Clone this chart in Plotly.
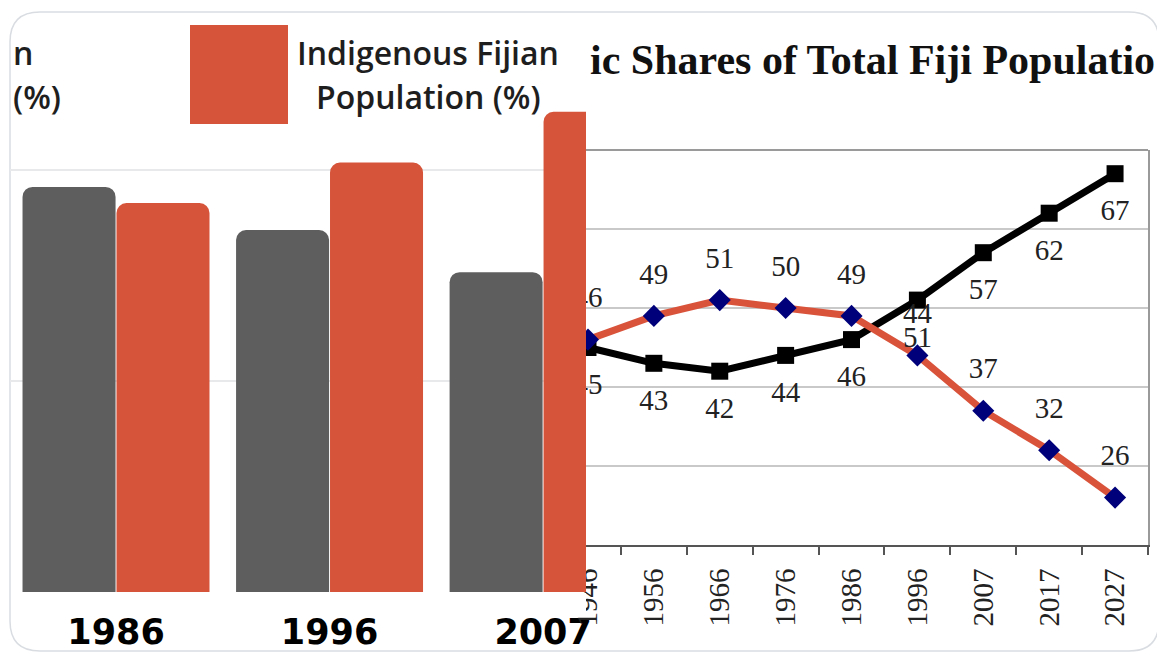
import plotly.graph_objects as go

# The page body has an 8px default margin; the figure is sized and positioned
# so that its content lands on the 1165x655 window coordinates.
WIN_W, WIN_H = 1165, 655
OFF = 8
W, H = WIN_W - OFF, WIN_H - OFF

# ---------------- data ----------------
# Left panel (bar chart, cropped)
bar_years = ["1986", "1996", "2007"]
indo_fijian_pct = [48.0, 42.9, 37.9]
indigenous_fijian_pct = [46.1, 50.9, 56.9]

# Right panel (line chart, cropped)
line_years = ["1946", "1956", "1966", "1976", "1986", "1996", "2007", "2017", "2027"]
black_series = [45, 43, 42, 44, 46, 51, 57, 62, 67]
red_series = [46, 49, 51, 50, 49, 44, 37, 32, 26]

LABEL_OFFSET = 5  # data-unit offset for value labels

GRAY = "#5e5e5e"
ORANGE = "#d6543a"
RED_LINE = "#d9533b"
NAVY = "#00007a"


def px(x):
    return (x - OFF) / W


def py(y):
    return 1 - (y - OFF) / H


fig = go.Figure()

# ---- left bars ----
fig.add_trace(go.Bar(
    x=bar_years, y=indo_fijian_pct, name="Indo-Fijian Population (%)",
    marker=dict(color=GRAY, cornerradius=10, line=dict(width=0)),
    xaxis="x", yaxis="y", showlegend=False, hoverinfo="skip"))
fig.add_trace(go.Bar(
    x=bar_years, y=indigenous_fijian_pct, name="Indigenous Fijian Population (%)",
    marker=dict(color=ORANGE, cornerradius=10, line=dict(width=0)),
    xaxis="x", yaxis="y", showlegend=False, hoverinfo="skip"))

# ---- right lines ----
fig.add_trace(go.Scatter(
    x=line_years, y=black_series, mode="lines+markers",
    line=dict(color="black", width=7),
    marker=dict(symbol="square", size=17, color="black"),
    xaxis="x2", yaxis="y2", showlegend=False, cliponaxis=True, hoverinfo="skip"))
fig.add_trace(go.Scatter(
    x=line_years, y=red_series, mode="lines+markers",
    line=dict(color=RED_LINE, width=7),
    marker=dict(symbol="diamond", size=17, color=NAVY),
    xaxis="x2", yaxis="y2", showlegend=False, cliponaxis=True, hoverinfo="skip"))

label_font = dict(family="Liberation Serif, Times New Roman, serif", size=29, color="#222222")
fig.add_trace(go.Scatter(
    x=line_years, y=[v - LABEL_OFFSET for v in black_series], mode="text",
    text=[str(v) for v in black_series], textfont=label_font,
    xaxis="x2", yaxis="y2", showlegend=False, cliponaxis=True, hoverinfo="skip"))
fig.add_trace(go.Scatter(
    x=line_years, y=[v + LABEL_OFFSET for v in red_series], mode="text",
    text=[str(v) for v in red_series], textfont=label_font,
    xaxis="x2", yaxis="y2", showlegend=False, cliponaxis=True, hoverinfo="skip"))


# ---------------- layout ----------------
def rounded_rect(x0, y0, x1, y1, r):
    rx, ry = r / W, r / H
    X0, X1 = px(x0), px(x1)
    Y0, Y1 = py(y0), py(y1)  # Y0 top, Y1 bottom
    return (f"M {X0+rx},{Y0} L {X1-rx},{Y0} Q {X1},{Y0} {X1},{Y0-ry} "
            f"L {X1},{Y1+ry} Q {X1},{Y1} {X1-rx},{Y1} "
            f"L {X0+rx},{Y1} Q {X0},{Y1} {X0},{Y1+ry} "
            f"L {X0},{Y0-ry} Q {X0},{Y0} {X0+rx},{Y0} Z")


SEAM = 586  # where the left picture overlaps the right one

shapes = [
    dict(type="path", path=rounded_rect(10, 12, 1159, 651, 30), xref="paper", yref="paper",
         line=dict(color="#d9dde2", width=1.5), fillcolor="rgba(0,0,0,0)", layer="below"),
    # legend swatch (Indigenous Fijian)
    dict(type="rect", xref="paper", yref="paper", x0=px(190), x1=px(288), y0=py(124), y1=py(25),
         fillcolor=ORANGE, line=dict(width=0)),
    # top frame of line chart
    dict(type="line", xref="x2 domain", yref="y2 domain", x0=0, x1=1, y0=1, y1=1,
         line=dict(color="#9a9a9a", width=2)),
    # left picture overlapping the first year label of the right picture
    dict(type="rect", xref="paper", yref="paper", x0=px(562), x1=px(SEAM), y0=py(592), y1=py(552),
         fillcolor=ORANGE, line=dict(width=0), layer="above"),
    dict(type="rect", xref="paper", yref="paper", x0=px(562), x1=px(SEAM), y0=py(615), y1=py(593),
         fillcolor="white", line=dict(width=0), layer="above"),
]

legend_font = dict(family="Open Sans, Noto Sans, sans-serif", size=32, color="#1e1e1e", weight=600)
annotations = [
    dict(text="n", x=px(11), y=py(52), xref="paper", yref="paper", xanchor="left", yanchor="middle",
         showarrow=False, font=legend_font),
    dict(text="(%)", x=px(11), y=py(97), xref="paper", yref="paper", xanchor="left", yanchor="middle",
         showarrow=False, font=legend_font),
    dict(text="Indigenous Fijian", x=px(428), y=py(52), xref="paper", yref="paper",
         xanchor="center", yanchor="middle", showarrow=False, font=legend_font),
    dict(text="Population (%)", x=px(428), y=py(97), xref="paper", yref="paper",
         xanchor="center", yanchor="middle", showarrow=False, font=legend_font),
    dict(text="ic Shares of Total Fiji Populatio", x=px(588), y=py(60), xref="paper", yref="paper",
         xanchor="left", yanchor="middle", showarrow=False,
         font=dict(family="Liberation Serif, Times New Roman, serif", size=42, color="#111111",
                   weight="bold")),
]

fig.update_layout(
    width=W, height=H,
    margin=dict(l=0, r=0, t=0, b=0),
    paper_bgcolor="white", plot_bgcolor="rgba(0,0,0,0)",
    barmode="group", bargap=0.12, bargroupgap=0.01,
    showlegend=False,
    shapes=shapes, annotations=annotations,
    xaxis=dict(domain=[px(10), px(SEAM)], anchor="y", type="category",
               range=[-0.4965, 2.201], showgrid=False, showline=False, zeroline=False,
               ticks="", ticklabelstandoff=16, automargin=False,
               tickfont=dict(family="DejaVu Sans, sans-serif", size=35, color="black", weight="bold")),
    yaxis=dict(domain=[py(592), py(100)], anchor="x", range=[0, 58.3], automargin=False,
               tickvals=[0, 25, 50], showticklabels=False, showgrid=True,
               gridcolor="#e8e9eb", gridwidth=1.5, zeroline=False, showline=False),
    xaxis2=dict(domain=[px(SEAM), px(1148)], anchor="y2", type="category", automargin=False,
                range=[-0.03, 8.5], tickson="boundaries", ticks="outside", ticklen=8,
                tickwidth=1.5, tickcolor="#555555", showline=True, linecolor="#555555",
                linewidth=2, showgrid=False, zeroline=False, tickangle=-90,
                ticklabelstandoff=10,
                tickfont=dict(family="Liberation Serif, Times New Roman, serif", size=29,
                              color="#222222")),
    yaxis2=dict(domain=[py(545), py(150)], anchor="x2", range=[20, 70], dtick=10, automargin=False,
                side="right", showticklabels=False, ticks="", showgrid=True,
                gridcolor="#c9c9c9", gridwidth=1.5, zeroline=False,
                showline=True, linecolor="#9a9a9a", linewidth=2),
)

fig.write_html("out.html")
